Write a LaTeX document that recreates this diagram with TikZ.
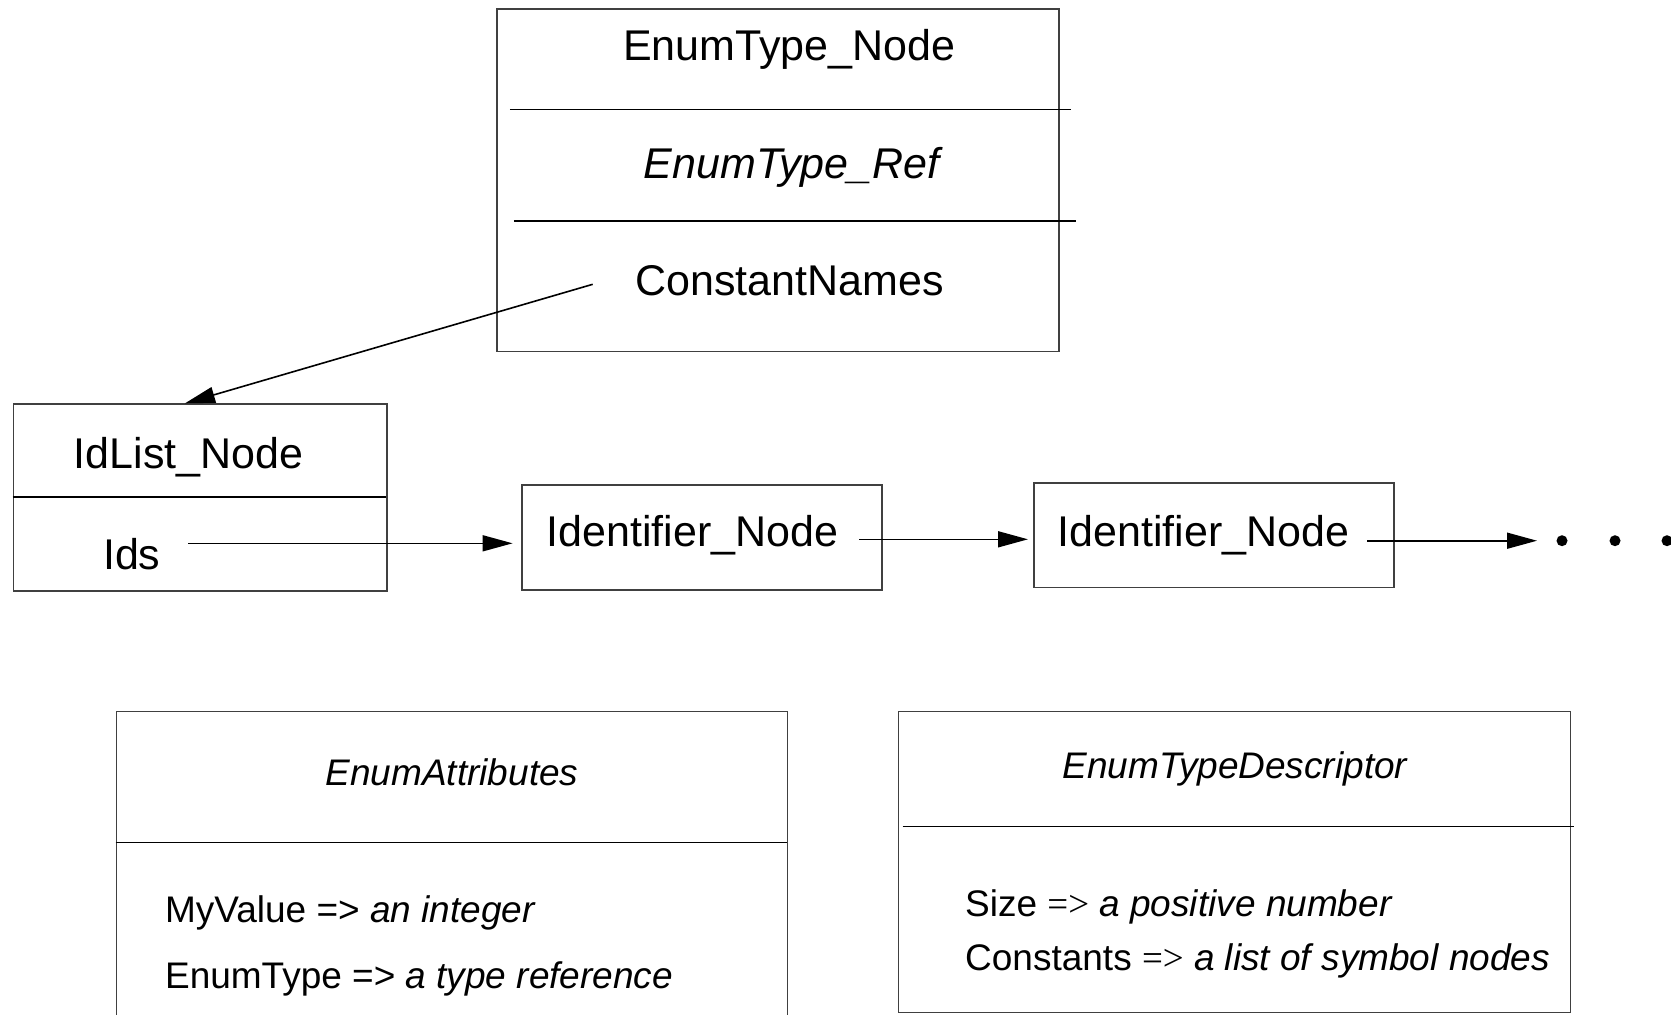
\documentclass[tikz,border=0pt]{standalone}
\usepackage{fontspec}
\setmainfont{Liberation Sans}
\newfontfamily\symfont{Liberation Serif}
\usetikzlibrary{arrows.meta}
\definecolor{boxgray}{HTML}{404040}
\tikzset{
  frame/.style={draw=boxgray, line width=0.75pt, inner sep=0pt, anchor=north west},
  divider/.style={draw=black, line width=0.75pt},
  bigtext/.style={inner sep=0pt, anchor=base, font=\fontsize{21.5pt}{25pt}\selectfont},
  smalltext/.style={inner sep=0pt, anchor=base, font=\fontsize{18.5pt}{22pt}\selectfont},
  attrline/.style={inner sep=0pt, anchor=base west, font=\fontsize{18.5pt}{22pt}\selectfont},
  link/.style={draw=black, line width=0.8pt, -{Triangle[length=15pt,width=8pt]}},
  dotmark/.style={circle, fill=black, inner sep=0pt, minimum size=5.5pt}
}
\begin{document}
\begin{tikzpicture}[x=0.5pt, y=-0.5pt]
\useasboundingbox (0,0) rectangle (1671,1014);
\clip (0,0) rectangle (1671,1014);

% EnumType_Node record
\node[frame, minimum width=281pt, minimum height=171.2pt] (etn) at (496,8.3) {};
\draw[divider] (509.8,109.3) -- (1071,109.3);
\draw[divider] (513.9,221) -- (1076.3,221);
\node[bigtext] (etnName) at (789.2,60) {EnumType\_Node};
\node[bigtext] (etnRef) at (791.6,178.3) {\itshape EnumType\_Ref};
\node[bigtext] (etnConst) at (789.6,295) {ConstantNames};

% IdList_Node record
\node[frame, minimum width=186.85pt, minimum height=93.35pt] (idl) at (12.6,403.3) {};
\draw[divider] (12.6,497) -- (386.3,497);
\node[bigtext] (idlName) at (188.6,468.3) {IdList\_Node};
\node[bigtext] (idlIds) at (131.8,569.3) {Ids};

% chain of identifier nodes
\node[frame, minimum width=180pt, minimum height=52.5pt] (id1) at (521.2,484) {};
\node[bigtext] (id1Name) at (692.6,546.7) {Identifier\_Node};
\node[frame, minimum width=179.9pt, minimum height=52.2pt] (id2) at (1033.2,482.3) {};
\node[bigtext] (id2Name) at (1203.4,546) {Identifier\_Node};

% connector start points
\coordinate (cnOut) at (592.7,284.3);
\coordinate (idsOut) at (188.3,543.3);
\coordinate (id1Out) at (859.4,539.3);
\coordinate (id2Out) at (1367.3,540.7);
\coordinate (moreIn) at (1537,540.7);

\draw[link] (cnOut) -- ([xshift=86.2pt]idl.north west);
\draw[link, shorten >=4.3pt] (idsOut) -- (idsOut -| id1.west);
\draw[link, shorten >=2.6pt] (id1Out) -- (id1Out -| id2.west);
\draw[link] (id2Out) -- (moreIn);

% ellipsis
\node[dotmark] (dot1) at (1562,540.7) {};
\node[dotmark] (dot2) at (1615,540.7) {};
\node[dotmark] (dot3) at (1667,540.7) {};

% EnumAttributes
\node[frame, minimum width=335.5pt, minimum height=159.65pt] (attr) at (115.6,710.7) {};
\draw[divider] (115.6,842.7) -- (786.6,842.7);
\node[smalltext] (attrTitle) at (452,785) {\itshape EnumAttributes};
\node[attrline] (attrValue) at (164.7,922.3) {MyValue => \textit{an integer}};
\node[attrline] (attrType) at (164.7,988.3) {EnumType => \textit{a type reference}};

% EnumTypeDescriptor
\node[frame, minimum width=336pt, minimum height=150.5pt] (desc) at (897.7,710.7) {};
\draw[divider] (902.7,826.7) -- (1573.7,826.7);
\node[smalltext] (descTitle) at (1234.9,778.3) {\itshape EnumTypeDescriptor};
\node[attrline] (descSize) at (964.8,916.7) {Size {\symfont =>} \textit{a positive number}};
\node[attrline] (descConst) at (964.8,970) {Constants {\symfont =>} \textit{a list of symbol nodes}};
\end{tikzpicture}
\end{document}
